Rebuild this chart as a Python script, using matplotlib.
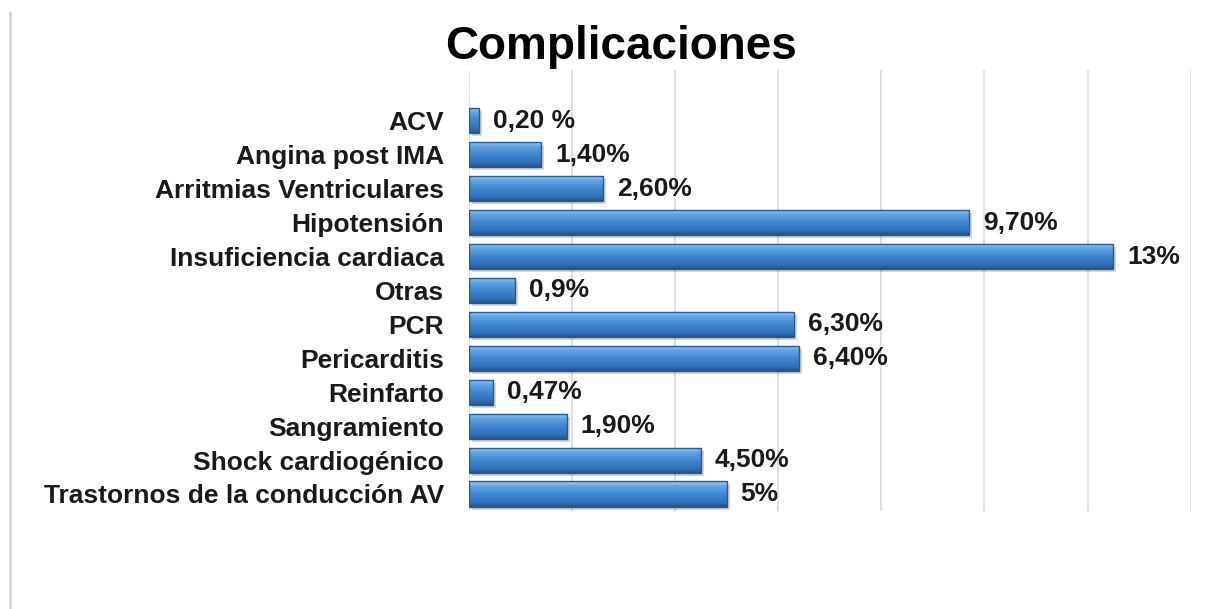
import numpy as np
import matplotlib
matplotlib.use("Agg")
import matplotlib.pyplot as plt
from matplotlib.colors import LinearSegmentedColormap
from matplotlib.lines import Line2D
import matplotlib.transforms as mtransforms

# data
categories = ["ACV", "Angina post IMA", "Arritmias Ventriculares", "Hipotensión",
              "Insuficiencia cardiaca", "Otras", "PCR", "Pericarditis", "Reinfarto",
              "Sangramiento", "Shock cardiogénico", "Trastornos de la conducción AV"]
values = [0.2, 1.4, 2.6, 9.7, 12.5, 0.9, 6.3, 6.4, 0.47, 1.9, 4.5, 5.0]
value_labels = ["0,20 %", "1,40%", "2,60%", "9,70%", "13%", "0,9%", "6,30%",
                "6,40%", "0,47%", "1,90%", "4,50%", "5%"]

plt.rcParams['font.family'] = ['Liberation Sans', 'DejaVu Sans']

fig = plt.figure(figsize=(12.15, 6.09), dpi=100)
ax = fig.add_axes([0.386, 0.161, 0.594, 0.724])

y = np.arange(len(categories))
h = 0.74

bar_cmap = LinearSegmentedColormap.from_list(
    "bevel", [(0.0, "#a6cff2"), (0.2, "#62a3e2"), (0.5, "#4088d2"),
              (0.85, "#2f70b9"), (1.0, "#22548e")])
grad = np.linspace(0, 1, 64).reshape(-1, 1)

# soft shadows under the bars
shadow_tr = mtransforms.offset_copy(ax.transData, fig=fig, x=3, y=-3, units='dots')
ax.barh(y, values, height=h, color='#000000', alpha=0.16, transform=shadow_tr,
        zorder=2, linewidth=0)

bars = ax.barh(y, values, height=h, color='none', edgecolor='#245a95',
               linewidth=1.0, zorder=4)
for b, v, yy in zip(bars, values, y):
    im = ax.imshow(grad, extent=(0, v, yy + h / 2, yy - h / 2), origin='upper',
                   aspect='auto', cmap=bar_cmap, zorder=3, interpolation='bilinear')
    im.set_clip_path(b)

for v, yy, lab in zip(values, y, value_labels):
    ax.annotate(lab, xy=(v, yy), xytext=(10, 0), textcoords='offset points',
                va='center', ha='left', fontsize=19, fontweight='bold', color='#1a1a1a')

ax.set_xlim(0, 14)
ax.set_ylim(len(categories) - 0.5, -1.5)
ax.set_xticks(np.arange(0, 15, 2))
ax.set_xticklabels([])
ax.tick_params(axis='x', length=0)
ax.grid(axis='x', color='#d9d9d9', linewidth=1.2, zorder=0)
ax.set_axisbelow(True)
ax.set_yticks(y)
ax.set_yticklabels(categories, fontsize=19, fontweight='bold', color='#1a1a1a')
ax.tick_params(axis='y', length=0, pad=18)
for s in ax.spines.values():
    s.set_visible(False)

fig.text(0.511, 0.923, "Complicaciones", ha='center', va='center',
         fontsize=33, fontweight='bold', color='black')

# left border of the chart area
fig.add_artist(Line2D([0.0085, 0.0085], [0.0, 0.978], color='#d4d4d4', linewidth=2,
                      transform=fig.transFigure))

fig.savefig("out.png", dpi=100, facecolor='white')
